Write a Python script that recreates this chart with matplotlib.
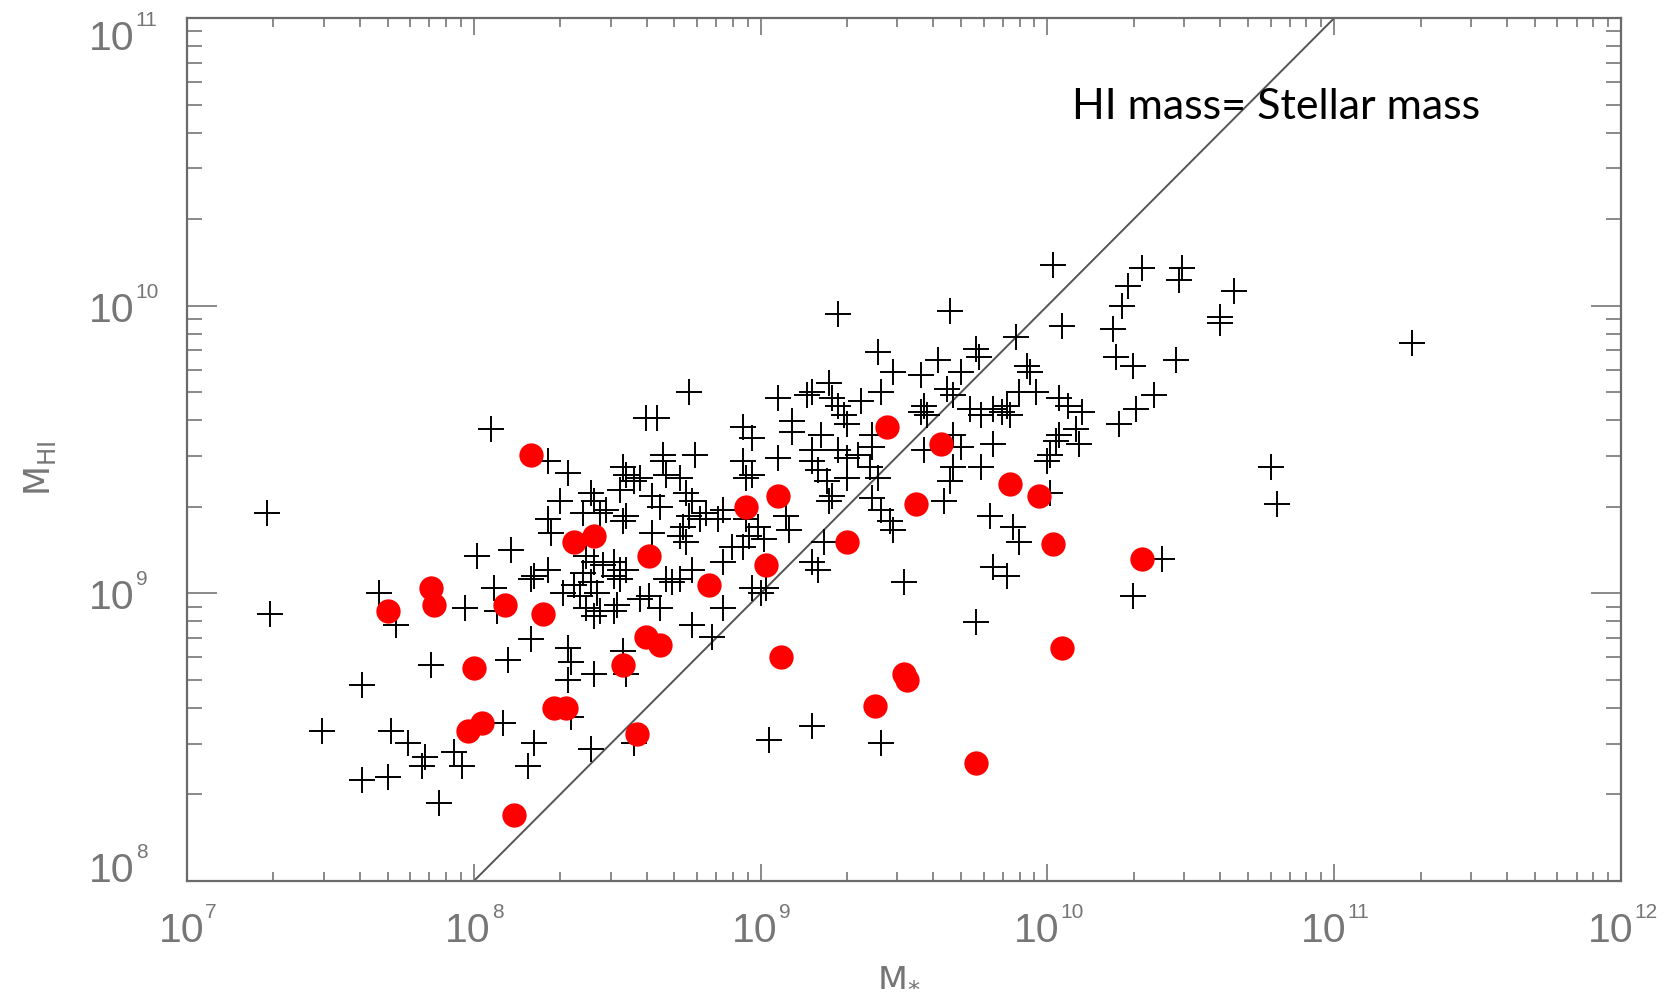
import numpy as np
import matplotlib
matplotlib.use("Agg")
import matplotlib.pyplot as plt
from matplotlib.ticker import LogLocator, NullFormatter

# log10 stellar mass / log10 HI mass
plus_log_mstar = [
    8.06, 7.28, 7.29, 7.67, 7.73, 7.97, 8.01, 8.07, 7.85, 7.61, 7.47, 7.71, 7.77, 7.83, 7.82,
    7.93, 7.96, 7.61, 7.70, 7.88,
    8.75, 8.60, 8.64, 8.94, 8.97, 9.06, 8.26, 8.33, 8.66, 8.77, 8.52, 8.58, 8.51, 8.53, 8.56,
    8.66, 8.67, 8.72, 8.94, 8.95, 8.97, 9.06, 8.41, 8.42, 8.38, 8.44, 8.46, 8.30, 8.26, 8.27,
    8.53, 8.52, 8.62, 8.65, 8.74, 8.76, 8.75, 8.73, 8.72, 8.79, 8.81, 8.87, 8.95, 8.99, 9.01,
    8.96, 8.94, 8.90, 8.62, 8.74, 8.13, 8.39, 8.42, 8.45, 8.49, 8.51, 8.53, 8.38, 8.41, 8.35,
    8.37, 8.43, 8.21, 8.26, 8.20, 8.31, 8.49, 8.51, 8.67, 8.69, 8.72, 8.76, 8.87, 8.97, 9.00,
    9.02, 8.58, 8.61, 8.50, 8.49, 8.44, 8.65, 8.39, 8.42, 8.76, 8.87, 8.08, 8.12, 8.20, 8.33,
    8.34, 8.33, 8.42, 8.52, 8.53, 8.83, 8.10, 8.21, 8.19, 8.41, 8.56, 8.34, 9.03, 8.85,
    10.02, 9.27, 9.66, 10.05, 9.89, 9.41, 9.46, 9.56, 9.62, 9.75, 9.76, 9.70, 9.93, 9.24, 9.18,
    9.25, 9.27, 9.29, 9.30, 9.35, 9.42, 9.57, 9.56, 9.58, 9.65, 9.67, 9.73, 9.77, 9.81, 9.84,
    9.87, 9.86, 9.90, 9.96, 9.94, 10.04, 10.07, 10.12, 10.10, 10.11, 9.11, 9.11, 9.21, 9.18, 9.18,
    9.20, 9.27, 9.30, 9.34, 9.39, 9.39, 9.57, 9.67, 9.70, 9.81, 9.77, 9.67, 9.66, 10.04, 10.03,
    10.01, 10.00, 9.23, 9.25, 9.24, 9.30, 9.38, 9.41, 9.39, 9.42, 9.45, 9.46, 9.64, 9.80, 9.88,
    9.90, 9.22, 9.09, 9.10, 10.01, 9.16,
    9.86, 9.81, 9.50, 9.75, 9.18, 9.20, 9.18, 9.42,
    10.33, 10.47, 10.46, 10.28, 10.26, 10.65, 10.60, 10.60, 10.23, 10.24, 10.30, 10.45, 10.37,
    10.31, 10.25, 11.27, 10.78, 10.80, 10.40, 10.30,
]
plus_log_mhi = [
    9.57, 9.28, 8.93, 9.00, 8.89, 8.95, 9.13, 9.02, 8.75, 8.68, 8.52, 8.52, 8.48, 8.43, 8.40,
    8.45, 8.40, 8.35, 8.36, 8.27,
    9.70, 9.61, 9.61, 9.58, 9.54, 9.68, 9.46, 9.42, 9.48, 9.48, 9.44, 9.40, 9.36, 9.41, 9.39,
    9.46, 9.41, 9.40, 9.46, 9.40, 9.41, 9.47, 9.35, 9.32, 9.28, 9.28, 9.29, 9.32, 9.26, 9.21,
    9.27, 9.25, 9.34, 9.30, 9.35, 9.32, 9.27, 9.23, 9.20, 9.26, 9.28, 9.29, 9.26, 9.23, 9.19,
    9.20, 9.16, 9.16, 9.21, 9.18, 9.15, 9.13, 9.11, 9.10, 9.11, 9.08, 9.08, 9.07, 9.04, 9.03,
    8.99, 9.00, 9.06, 9.08, 9.05, 9.00, 9.06, 9.05, 9.05, 9.04, 9.05, 9.08, 9.11, 9.02, 9.00,
    9.02, 8.98, 8.99, 8.96, 8.94, 8.94, 8.95, 8.95, 8.92, 8.89, 8.95, 8.94, 8.77, 8.84, 8.81,
    8.76, 8.70, 8.72, 8.80, 8.72, 8.85, 8.55, 8.48, 8.40, 8.46, 8.48, 8.57, 8.49, 9.26,
    10.14, 9.97, 9.98, 9.93, 9.89, 9.84, 9.77, 9.76, 9.81, 9.85, 9.82, 9.77, 9.79, 9.73, 9.70,
    9.68, 9.65, 9.62, 9.59, 9.67, 9.70, 9.65, 9.63, 9.62, 9.71, 9.69, 9.64, 9.62, 9.64, 9.63,
    9.62, 9.65, 9.70, 9.70, 9.77, 9.68, 9.65, 9.63, 9.57, 9.52, 9.60, 9.56, 9.55, 9.50, 9.46,
    9.43, 9.50, 9.47, 9.48, 9.55, 9.51, 9.50, 9.55, 9.51, 9.52, 9.44, 9.44, 9.39, 9.55, 9.53,
    9.48, 9.46, 9.39, 9.34, 9.32, 9.40, 9.44, 9.40, 9.33, 9.29, 9.25, 9.22, 9.32, 9.27, 9.23,
    9.18, 9.18, 9.27, 9.22, 9.35, 9.69,
    9.06, 9.09, 9.04, 8.90, 9.11, 9.08, 8.54, 8.48,
    10.13, 10.13, 10.09, 10.07, 10.00, 10.05, 9.96, 9.94, 9.92, 9.82, 9.79, 9.81, 9.69,
    9.64, 9.59, 9.87, 9.44, 9.31, 9.12, 8.99,
]

red_log_mstar = [
    8.20, 7.70, 7.85, 7.86, 8.00, 7.98, 8.03, 8.11, 8.24, 8.14, 8.35, 8.42, 8.28, 8.32, 8.52,
    8.57, 8.61, 8.60, 8.65, 8.82, 8.95, 9.02, 9.06, 9.07, 9.30, 9.44, 9.54, 9.63, 9.40, 9.50,
    9.51, 9.75, 9.87, 9.97, 10.02, 10.05, 10.33,
]
red_log_mhi = [
    9.48, 8.94, 9.02, 8.96, 8.74, 8.52, 8.55, 8.96, 8.93, 8.23, 9.18, 9.20, 8.60, 8.60, 8.75,
    8.51, 9.13, 8.85, 8.82, 9.03, 9.30, 9.10, 9.34, 8.78, 9.18, 9.58, 9.31, 9.52, 8.61, 8.72,
    8.70, 8.41, 9.38, 9.34, 9.17, 8.81, 9.12,
]

equal_mass_line = [1e8, 1e11]
x_decades = [7, 8, 9, 10, 11, 12]
y_decades = [8, 9, 10, 11]

PX = 0.72            # points per pixel at dpi 100
AX_GRAY = "#6a6a6a"
LBL_GRAY = "#767676"
plt.rcParams["mathtext.fontset"] = "custom"
plt.rcParams["mathtext.rm"] = "Liberation Sans"
plt.rcParams["mathtext.it"] = "Liberation Sans"

fig = plt.figure(figsize=(16.76, 10.03), dpi=100, facecolor="white")
ax = fig.add_axes([0.1116, 0.1206, 0.8556, 0.8604])
ax.set_xscale("log"); ax.set_yscale("log")
ax.set_xlim(1e7, 1e12); ax.set_ylim(1e8, 1e11)

ax.plot(equal_mass_line, equal_mass_line, color="#555555", lw=1.4, zorder=1)
ax.plot(10.0 ** np.array(plus_log_mstar), 10.0 ** np.array(plus_log_mhi), "+", color="black",
        ms=19, mew=1.4, zorder=2)
ax.plot(10.0 ** np.array(red_log_mstar), 10.0 ** np.array(red_log_mhi), "o", color="#ff0000",
        ms=17.5, mec="none", zorder=3)

for axis in (ax.xaxis, ax.yaxis):
    axis.set_major_locator(LogLocator(base=10, numticks=100))
    axis.set_minor_locator(LogLocator(base=10, subs=np.arange(2, 10), numticks=100))
    axis.set_minor_formatter(NullFormatter())
ax.tick_params(which="both", direction="in", top=True, right=True, color=AX_GRAY, width=1.1,
               labelbottom=False, labelleft=False)
ax.tick_params(axis="x", which="major", length=17 * PX)
ax.tick_params(axis="x", which="minor", length=9 * PX)
ax.tick_params(axis="y", which="major", length=30 * PX)
ax.tick_params(axis="y", which="minor", length=15 * PX)
for sp in ax.spines.values():
    sp.set_color(AX_GRAY); sp.set_linewidth(1.6)

# IDL-style 10^n labels built from two pieces
lbl = dict(color=LBL_GRAY, family="Liberation Sans", textcoords="offset points",
           annotation_clip=False)
for k in x_decades:
    right = 17 if k < 10 else 12
    base = ax.annotate("10", xy=(10.0 ** k, 0), xycoords=("data", "axes fraction"),
                       xytext=(right * PX, -30 * PX), ha="right", va="top", fontsize=29.5, **lbl)
    ax.annotate(str(k), xy=(1, 1), xycoords=base, xytext=(1 * PX, 9 * PX),
                ha="left", va="top", fontsize=15, **lbl)
for k in y_decades:
    va = {8: "baseline", 11: "top"}.get(k, "center_baseline")
    dy = {11: -1 * PX}.get(k, 0)
    base = ax.annotate("10", xy=(0, 10.0 ** k), xycoords=("axes fraction", "data"),
                       xytext=(-98 * PX, dy), ha="left", va=va, fontsize=29.5, **lbl)
    ax.annotate(str(k), xy=(1, 1), xycoords=base, xytext=(1 * PX, 9 * PX),
                ha="left", va="top", fontsize=15, **lbl)

fig.text(899 / 1676, 1 - 976 / 1003, r"$\mathregular{M_{*}}$", ha="center", va="center",
         fontsize=25, color=LBL_GRAY)
fig.text(40 / 1676, 1 - 468 / 1003, r"$\mathregular{M_{HI}}$", ha="center", va="center",
         rotation=90, fontsize=25, color=LBL_GRAY)
ax.text(0.617, 0.898, "HI mass= Stellar mass", transform=ax.transAxes, ha="left", va="center",
        fontsize=31, family="Lato", color="black")

fig.savefig("out.png", dpi=100, facecolor="white")
